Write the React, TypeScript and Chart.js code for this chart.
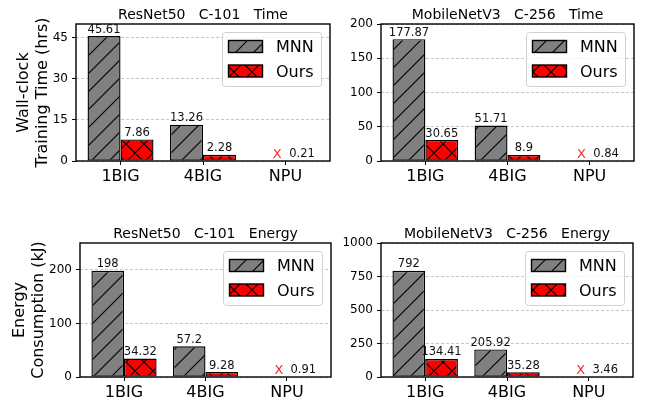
import React, { useEffect, useRef } from 'react';
import { Chart, registerables } from 'chart.js';
Chart.register(...registerables);

const FONT = "'DejaVu Sans', 'Liberation Sans', sans-serif";

const categories = ['1BIG', '4BIG', 'NPU'];
const seriesNames = ['MNN', 'Ours'];

const resnetTimeMNN: (number | null)[] = [45.61, 13.26, null];
const resnetTimeOurs: number[] = [7.86, 2.28, 0.21];
const mobileTimeMNN: (number | null)[] = [177.87, 51.71, null];
const mobileTimeOurs: number[] = [30.65, 8.9, 0.84];
const resnetEnergyMNN: (number | null)[] = [198, 57.2, null];
const resnetEnergyOurs: number[] = [34.32, 9.28, 0.91];
const mobileEnergyMNN: (number | null)[] = [792, 205.92, null];
const mobileEnergyOurs: number[] = [134.41, 35.28, 3.46];

const resnetTimeTicks = [0, 15, 30, 45];
const mobileTimeTicks = [0, 50, 100, 150, 200];
const resnetEnergyTicks = [0, 100, 200];
const mobileEnergyTicks = [0, 250, 500, 750, 1000];

const yMaxima = [50, 200, 250, 1000];
const panelTitles = [
  'ResNet50   C-101   Time',
  'MobileNetV3   C-256   Time',
  'ResNet50   C-101   Energy',
  'MobileNetV3   C-256   Energy',
];
const yLabels: (string[] | null)[] = [
  ['Wall-clock', 'Training Time (hrs)'],
  null,
  ['Energy', 'Consumption (kJ)'],
  null,
];
const missingMark = 'X';

type Panel = {
  x: number; y: number; w: number; h: number;
  area: { left: number; top: number; right: number; bottom: number };
  ylabelX: number[];
  mnn: (number | null)[]; ours: number[]; ticks: number[];
  max: number; title: string; ylabel: string[] | null;
};

const panels: Panel[] = [
  { x: 0, y: 0, w: 335, h: 200, area: { left: 76, top: 24, right: 330, bottom: 161 }, ylabelX: [23.5, 42.5],
    mnn: resnetTimeMNN, ours: resnetTimeOurs, ticks: resnetTimeTicks, max: yMaxima[0], title: panelTitles[0], ylabel: yLabels[0] },
  { x: 335, y: 0, w: 311, h: 200, area: { left: 46, top: 24, right: 299, bottom: 161 }, ylabelX: [],
    mnn: mobileTimeMNN, ours: mobileTimeOurs, ticks: mobileTimeTicks, max: yMaxima[1], title: panelTitles[1], ylabel: yLabels[1] },
  { x: 0, y: 200, w: 335, h: 200, area: { left: 80, top: 43, right: 331, bottom: 177 }, ylabelX: [20, 38.5],
    mnn: resnetEnergyMNN, ours: resnetEnergyOurs, ticks: resnetEnergyTicks, max: yMaxima[2], title: panelTitles[2], ylabel: yLabels[2] },
  { x: 335, y: 200, w: 311, h: 200, area: { left: 46, top: 43, right: 298, bottom: 177 }, ylabelX: [],
    mnn: mobileEnergyMNN, ours: mobileEnergyOurs, ticks: mobileEnergyTicks, max: yMaxima[3], title: panelTitles[3], ylabel: yLabels[3] },
];

function makeHatch(bg: string, cross: boolean, s = 18): CanvasPattern | string {
  const c = document.createElement('canvas');
  c.width = s; c.height = s;
  const g = c.getContext('2d');
  if (!g) return bg;
  g.fillStyle = bg;
  g.fillRect(0, 0, s, s);
  g.strokeStyle = '#000';
  g.lineWidth = 1.2;
  g.beginPath();
  for (let n = -1; n <= 3; n++) {
    g.moveTo(n * s + 2 * s, -2 * s);
    g.lineTo(n * s - 2 * s, 2 * s);
  }
  if (cross) {
    for (let n = -2; n <= 2; n++) {
      g.moveTo(n * s - 2 * s, -2 * s);
      g.lineTo(n * s + 2 * s, 2 * s);
    }
  }
  g.stroke();
  const p = (document.createElement('canvas').getContext('2d') as CanvasRenderingContext2D).createPattern(c, 'repeat');
  return p || bg;
}

function buildConfig(p: Panel): any {
  const mnnPat = makeHatch('#808080', false);
  const oursPat = makeHatch('#ff0000', true);
  const pats = [mnnPat, oursPat];

  const decor = {
    id: 'decor',
    afterDatasetsDraw(chart: any) {
      const { ctx, chartArea: a, scales } = chart;
      const xs = scales.x;
      const ys = scales.y;
      ctx.save();
      // frame
      ctx.strokeStyle = '#000';
      ctx.lineWidth = 1.4;
      ctx.strokeRect(a.left, a.top, a.right - a.left, a.bottom - a.top);

      // value labels
      ctx.font = `11.5px ${FONT}`;
      ctx.fillStyle = '#111';
      ctx.textAlign = 'center';
      ctx.textBaseline = 'alphabetic';
      chart.data.datasets.forEach((ds: any, di: number) => {
        const meta = chart.getDatasetMeta(di);
        ds.data.forEach((pt: any, i: number) => {
          if (pt.y == null) return;
          const bar = meta.data[i];
          ctx.fillText(String(pt.y), bar.x, bar.y - 3.5);
        });
      });
      // missing markers
      ctx.font = `13px ${FONT}`;
      ctx.fillStyle = '#ff2a2a';
      p.mnn.forEach((v, i) => {
        if (v != null) return;
        ctx.fillText(missingMark, xs.getPixelForValue(i - 0.1), ys.getPixelForValue(0) - 3.5);
      });

      // legend
      const bw = 99, bh = 54;
      const bx = a.right - 8.5 - bw, by = a.top + 8.5;
      ctx.beginPath();
      if ((ctx as any).roundRect) (ctx as any).roundRect(bx, by, bw, bh, 3);
      else ctx.rect(bx, by, bw, bh);
      ctx.fillStyle = 'rgba(255,255,255,0.8)';
      ctx.fill();
      ctx.strokeStyle = '#d0d0d0';
      ctx.lineWidth = 1;
      ctx.stroke();
      ctx.font = `16px ${FONT}`;
      ctx.textAlign = 'left';
      seriesNames.forEach((name, k) => {
        const cy = by + 14 + k * 24.5;
        ctx.fillStyle = pats[k] as any;
        ctx.fillRect(bx + 6, cy - 6, 34, 12);
        ctx.strokeStyle = '#000';
        ctx.lineWidth = 1.4;
        ctx.strokeRect(bx + 6, cy - 6, 34, 12);
        ctx.fillStyle = '#000';
        ctx.fillText(name, bx + 53.5, cy + 5.8);
      });

      // title
      ctx.font = `14px ${FONT}`;
      ctx.textAlign = 'center';
      ctx.fillStyle = '#000';
      ctx.fillText(p.title, (a.left + a.right) / 2, a.top - 4.7);

      // y label
      if (p.ylabel) {
        ctx.font = `16px ${FONT}`;
        const yc = (a.top + a.bottom) / 2;
        p.ylabel.forEach((line, k) => {
          ctx.save();
          ctx.translate(p.ylabelX[k], yc);
          ctx.rotate(-Math.PI / 2);
          ctx.textAlign = 'center';
          ctx.textBaseline = 'middle';
          ctx.fillText(line, 0, 0);
          ctx.restore();
        });
      }
      ctx.restore();
    },
  };

  return {
    type: 'bar',
    data: {
      datasets: [
        { label: seriesNames[0], data: p.mnn.map((v, i) => ({ x: i, y: v })), backgroundColor: mnnPat,
          borderColor: '#000', borderWidth: 1.4, borderSkipped: false, categoryPercentage: 0.8, barPercentage: 1 },
        { label: seriesNames[1], data: p.ours.map((v, i) => ({ x: i, y: v })), backgroundColor: oursPat,
          borderColor: '#000', borderWidth: 1.4, borderSkipped: false, categoryPercentage: 0.8, barPercentage: 1 },
      ],
    },
    options: {
      responsive: false,
      animation: false,
      devicePixelRatio: 1,
      layout: { padding: { left: 0, top: p.area.top, right: p.w - p.area.right, bottom: 0 } },
      plugins: { legend: { display: false }, title: { display: false }, tooltip: { enabled: false } },
      scales: {
        x: {
          type: 'linear', min: -0.54, max: 2.54, offset: false,
          afterBuildTicks: (ax: any) => { ax.ticks = categories.map((_, i) => ({ value: i })); },
          afterFit: (ax: any) => { ax.height = p.h - p.area.bottom; },
          ticks: { callback: (v: any) => categories[v] ?? '', font: { family: FONT, size: 16 }, color: '#000',
            padding: 2, maxRotation: 0, autoSkip: false },
          grid: { offset: false, drawOnChartArea: false, drawTicks: true, tickLength: 4, tickColor: '#000', tickWidth: 1 },
          border: { display: false },
        },
        y: {
          type: 'linear', min: 0, max: p.max,
          afterBuildTicks: (ax: any) => { ax.ticks = p.ticks.map((v) => ({ value: v })); },
          afterFit: (ax: any) => { ax.width = p.area.left; },
          ticks: { callback: (v: any) => String(v), font: { family: FONT, size: 12 }, color: '#000', padding: 4 },
          grid: { color: '#b8b8b8', lineWidth: 0.8, drawTicks: true, tickLength: 4, tickColor: '#000', tickWidth: 1 },
          border: { display: false, dash: [3, 2] },
        },
      },
    },
    plugins: [decor],
  };
}

export default function App() {
  const r0 = useRef<HTMLCanvasElement>(null);
  const r1 = useRef<HTMLCanvasElement>(null);
  const r2 = useRef<HTMLCanvasElement>(null);
  const r3 = useRef<HTMLCanvasElement>(null);
  const refs = [r0, r1, r2, r3];
  useEffect(() => {
    const charts = panels.map((p, i) => new Chart(refs[i].current as HTMLCanvasElement, buildConfig(p)));
    return () => charts.forEach((c) => c.destroy());
  }, []);
  return (
    <div style={{ position: 'fixed', left: 0, top: 0, width: 646, height: 400, background: '#fff', overflow: 'hidden' }}>
      {panels.map((p, i) => (
        <canvas key={i} ref={refs[i]} width={p.w} height={p.h}
          style={{ position: 'absolute', left: p.x, top: p.y, width: p.w, height: p.h, display: 'block' }} />
      ))}
    </div>
  );
}
